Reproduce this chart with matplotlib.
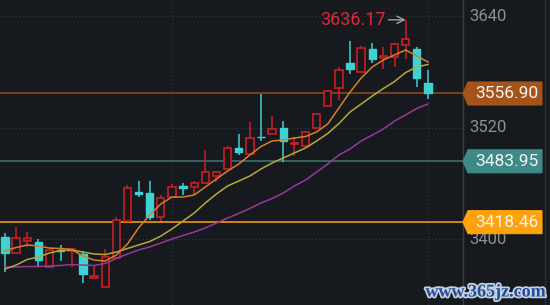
import matplotlib
matplotlib.use('Agg')
import matplotlib.pyplot as plt
import matplotlib.patheffects as pe
from matplotlib.patches import Polygon
from matplotlib.lines import Line2D
from matplotlib.transforms import blended_transform_factory
import numpy as np

# ---------------- data ----------------
opens = [3402.5, 3385.6, 3398.2, 3396.8, 3370.2, 3389.0, 3386.9, 3383.9, 3358.7, 3349.0,
         3379.6, 3419.7, 3451.2, 3450.2, 3423.7, 3445.9, 3457.4, 3456.6, 3460.3, 3468.1,
         3475.3, 3498.6, 3491.5, 3510.6, 3513.3, 3519.5, 3502.8, 3500.4, 3519.5, 3543.5,
         3562.5, 3589.4, 3579.7, 3604.5, 3594.8, 3595.9, 3609.1, 3604.5, 3568.5]
highs = [3406.8, 3412.9, 3407.9, 3400.7, 3388.5, 3393.9, 3390.2, 3387.4, 3371.8, 3389.2,
         3424.3, 3458.4, 3462.8, 3462.8, 3447.7, 3459.5, 3460.9, 3463.1, 3496.1, 3472.8,
         3500.4, 3513.3, 3526.6, 3556.1, 3532.7, 3527.3, 3510.4, 3516.6, 3536.3, 3560.7,
         3585.8, 3613.4, 3608.0, 3610.9, 3607.3, 3610.9, 3636.17, 3607.3, 3582.2]
lows = [3364.8, 3385.0, 3392.0, 3371.3, 3369.1, 3376.7, 3370.5, 3353.3, 3358.5, 3348.4,
        3379.5, 3419.7, 3445.9, 3420.8, 3420.0, 3445.9, 3447.7, 3447.7, 3460.3, 3462.0,
        3475.3, 3490.7, 3491.5, 3506.1, 3513.3, 3483.5, 3489.7, 3500.4, 3519.5, 3542.7,
        3549.9, 3577.9, 3579.7, 3589.4, 3583.0, 3585.8, 3593.7, 3563.6, 3550.7]
closes = [3385.3, 3401.7, 3401.7, 3377.7, 3388.2, 3387.4, 3389.9, 3362.3, 3360.5, 3381.3,
          3420.8, 3454.9, 3448.8, 3424.3, 3444.1, 3456.6, 3454.9, 3460.9, 3472.1, 3472.8,
          3497.9, 3493.6, 3509.3, 3509.9, 3519.0, 3506.1, 3503.4, 3515.8, 3534.9, 3559.6,
          3582.2, 3583.0, 3605.6, 3593.7, 3597.6, 3609.9, 3615.6, 3573.3, 3556.90]
ma5 = [3387.4, 3391.2, 3393.9, 3392.8, 3390.6, 3390.1, 3389.0, 3382.0, 3377.7, 3376.6,
       3383.1, 3394.9, 3412.2, 3426.2, 3438.0, 3445.5, 3445.5, 3447.7, 3456.3, 3464.9,
       3473.5, 3481.0, 3490.7, 3499.9, 3505.8, 3506.9, 3509.0, 3510.6, 3515.5, 3524.1,
       3541.3, 3558.5, 3573.6, 3585.4, 3593.0, 3598.4, 3603.7, 3597.3, 3590.8]
ma10 = [3368.0, 3372.3, 3378.3, 3381.0, 3385.3, 3388.0, 3388.5, 3386.3, 3384.2, 3383.6,
        3386.3, 3390.1, 3393.9, 3397.6, 3403.5, 3411.1, 3419.7, 3428.3, 3439.1, 3448.8,
        3457.4, 3462.7, 3468.1, 3475.7, 3482.1, 3487.5, 3492.9, 3498.3, 3505.8, 3513.9,
        3524.6, 3537.0, 3545.6, 3554.2, 3562.3, 3569.8, 3579.5, 3585.4, 3588.1]
ma20 = [3370.2, 3370.2, 3370.7, 3370.7, 3371.3, 3371.8, 3372.9, 3372.3, 3371.8, 3374.0,
        3379.3, 3384.2, 3388.5, 3391.7, 3396.0, 3400.3, 3404.1, 3407.8, 3412.2, 3417.5,
        3422.9, 3427.8, 3433.2, 3439.1, 3443.9, 3449.8, 3457.4, 3463.8, 3472.4, 3481.0,
        3490.7, 3497.2, 3505.8, 3512.2, 3518.7, 3527.3, 3533.8, 3540.8, 3545.6]
ytick_values = [3400, 3520, 3640]
ytick_labels = ['3400', '3520', '3640']
vgrid_positions = [15, 38]
price_lines = [3556.90, 3483.95, 3418.46]
price_labels = ['3556.90', '3483.95', '3418.46']
peak_value = 3636.17
peak_label = '3636.17'
peak_index = 36
watermark = 'www.365jz.com'

# ---------------- style ----------------
BG = '#16191e'
RED = '#d01c24'
CYAN = '#3fd2d2'
GRID = '#30353c'
TICK = '#8c9097'
line_colors = ['#8e4614', '#3a706d', '#f0980e']
tag_colors = ['#a45418', '#3e8a86', '#ffa20c']
MA_COLORS = ['#d4802a', '#b8a838', '#9a389a']
FONT = 'Roboto'

W, H = 550, 305
fig = plt.figure(figsize=(W / 100, H / 100), dpi=100, facecolor=BG)
AXW = 463
ax = fig.add_axes([0, 0, AXW / W, 1], facecolor=BG)
ylo, yhi = 3329.3, 3657.5
ax.set_xlim(-0.45, 41.15)
ax.set_ylim(ylo, yhi)
ax.set_xticks([])
ax.set_yticks([])
for s in ['top', 'left', 'bottom']:
    ax.spines[s].set_visible(False)
ax.spines['right'].set_color('#3a3e44')
ax.spines['right'].set_linewidth(1.0)

# grid
for v in ytick_values:
    ax.axhline(v, color=GRID, lw=0.9, ls=(0, (1, 2)), zorder=1)
for v in vgrid_positions:
    ax.axvline(v, color=GRID, lw=0.9, ls=(0, (1, 2)), zorder=1)

# horizontal price lines
for v, lc in zip(price_lines, line_colors):
    ax.axhline(v, color=lc, lw=1.2, zorder=2)

# candles
x = np.arange(len(opens))
o = np.array(opens); c = np.array(closes); h = np.array(highs); l = np.array(lows)
up = c >= o
top = np.maximum(o, c); bot = np.minimum(o, c)
ax.vlines(x[up], top[up], h[up], color=RED, lw=1.1, zorder=3)
ax.vlines(x[up], l[up], bot[up], color=RED, lw=1.1, zorder=3)
ax.vlines(x[~up], l[~up], h[~up], color=CYAN, lw=1.1, zorder=3)
ax.bar(x[up], top[up] - bot[up], bottom=bot[up], width=0.66, facecolor=BG,
       edgecolor=RED, linewidth=1.2, zorder=4)
ax.bar(x[~up], top[~up] - bot[~up], bottom=bot[~up], width=0.66, facecolor=CYAN,
       edgecolor=CYAN, linewidth=1.0, zorder=4)

# moving averages
for ma, col in zip([ma20, ma10, ma5], MA_COLORS[::-1]):
    ax.plot(x, ma, color=col, lw=1.1, zorder=5)

# right axis tick labels
bt = blended_transform_factory(ax.transAxes, ax.transData)
for v, s in zip(ytick_values, ytick_labels):
    ax.text((AXW + 6) / AXW, v, s, transform=bt, ha='left', va='center',
            color=TICK, fontsize=12, family=FONT, clip_on=False, zorder=6)

# price tags
x0, tip, x1, hh = AXW, 5, 542, 11.5
for v, s, tc in zip(price_lines, price_labels, tag_colors):
    yf = (v - ylo) / (yhi - ylo) * H
    pts = [(x0 / W, yf / H), ((x0 + tip) / W, (yf + hh) / H), (x1 / W, (yf + hh) / H),
           (x1 / W, (yf - hh) / H), ((x0 + tip) / W, (yf - hh) / H)]
    poly = Polygon(pts, closed=True, transform=fig.transFigure, facecolor=tc,
                   edgecolor=tc, lw=0.8, zorder=10)
    fig.add_artist(poly)
    fig.text((x0 + tip + x1) / 2 / W + 1.5 / W, yf / H, s, ha='center', va='center',
             color='#f4f4f4', fontsize=12.5, family=FONT, zorder=11)

# right border
fig.add_artist(Line2D([545 / W, 545 / W], [0, 1], transform=fig.transFigure,
                      color='#2c3035', lw=1.0))

# peak annotation
ax.annotate(peak_label, xy=(peak_index, peak_value), xytext=(-20, 0),
            textcoords='offset pixels', ha='right', va='center', color='#dc2a38',
            fontsize=13, family=FONT, zorder=7,
            arrowprops=dict(arrowstyle='->', color='#a0a0a0', lw=1.0,
                            shrinkA=0, shrinkB=0))

# watermark
fig.text(545 / W, 1 - 292 / H, watermark, ha='right', va='center', color='#1f4e9c',
         fontsize=13, family='Liberation Serif', weight='bold', zorder=12,
         path_effects=[pe.withStroke(linewidth=2.5, foreground='#c8d0dc')])

fig.savefig('out.png', dpi=100, facecolor=BG)
